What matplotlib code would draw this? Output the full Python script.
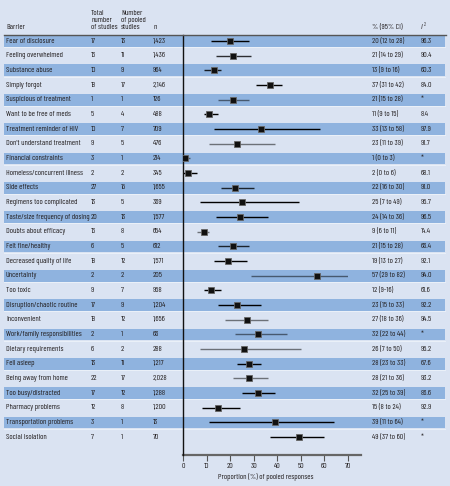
import matplotlib
matplotlib.use("Agg")
import matplotlib.pyplot as plt
from matplotlib.patches import Rectangle
from matplotlib.lines import Line2D
from matplotlib.transforms import blended_transform_factory

plt.rcParams['font.family'] = ['Barlow Condensed', 'Archivo Narrow', 'DejaVu Sans']

barriers = ["Fear of disclosure", "Feeling overwhelmed", "Substance abuse", "Simply forgot",
            "Suspicious of treatment", "Want to be free of meds", "Treatment reminder of HIV",
            "Don't understand treatment", "Financial constraints", "Homeless/concurrent illness",
            "Side effects", "Regimens too complicated", "Taste/size frequency of dosing",
            "Doubts about efficacy", "Felt fine/healthy", "Decreased quality of life",
            "Uncertainty", "Too toxic", "Disruption/chaotic routine", "Inconvenient",
            "Work/family responsibilities", "Dietary requirements", "Fell asleep",
            "Being away from home", "Too busy/distracted", "Pharmacy problems",
            "Transportation problems", "Social isolation"]
total_studies = [17, 16, 10, 18, 1, 5, 10, 9, 3, 2, 27, 13, 20, 16, 6, 18, 2, 9, 17, 18,
                 2, 6, 13, 22, 17, 12, 3, 7]
pooled_studies = [13, 11, 9, 17, 1, 4, 7, 5, 1, 2, 15, 5, 13, 8, 5, 12, 2, 7, 9, 12,
                  1, 2, 11, 17, 12, 8, 1, 1]
n_resp = ["1,423", "1,436", "964", "2,146", "126", "488", "709", "476", "214", "345",
          "1,655", "369", "1,577", "654", "612", "1,571", "205", "958", "1,204", "1,656",
          "66", "288", "1,217", "2,028", "1,288", "1,200", "13", "70"]
pct = [20, 21, 13, 37, 21, 11, 33, 23, 1, 2, 22, 25, 24, 9, 21, 19, 57, 12, 23, 27,
       32, 26, 28, 28, 32, 15, 39, 49]
ci_low = [12, 14, 9, 31, 15, 9, 13, 11, 0, 0, 16, 7, 14, 6, 15, 13, 29, 9, 15, 18,
          22, 7, 23, 21, 25, 8, 11, 37]
ci_high = [28, 29, 16, 42, 28, 15, 58, 39, 3, 6, 30, 49, 36, 11, 28, 27, 82, 16, 33, 36,
           44, 50, 33, 36, 39, 24, 64, 60]
ci_text = ["20 (12 to 28)", "21 (14 to 29)", "13 (9 to 16)", "37 (31 to 42)", "21 (15 to 28)",
           "11 (9 to 15)", "33 (13 to 58)", "23 (11 to 39)", "1 (0 to 3)", "2 (0 to 6)",
           "22 (16 to 30)", "25 (7 to 49)", "24 (14 to 36)", "9 (6 to 11)", "21 (15 to 28)",
           "19 (13 to 27)", "57 (29 to 82)", "12 (9-16)", "23 (15 to 33)", "27 (18 to 36)",
           "32 (22 to 44)", "26 (7 to 50)", "28 (23 to 33)", "28 (21 to 36)", "32 (25 to 39)",
           "15 (8 to 24)", "39 (11 to 64)", "49 (37 to 60)"]
i2 = ["96.3", "90.4", "60.3", "84.0", "*", "8.4", "97.9", "91.7", "*", "68.1", "91.0", "95.7",
      "96.5", "14.4", "66.4", "92.1", "94.0", "61.6", "92.2", "94.5", "*", "95.2", "67.6",
      "93.2", "86.6", "92.9", "*", "*"]
ticks = [0, 10, 20, 30, 40, 50, 60, 70]

# line darkness per row (as seen in the original)
line_alpha = [1, 0.8, 0.85, 1, 0.5, 1, 1, 0.5, 0.5, 1, 0.8, 1, 1, 0.5, 0.8, 1, 0.5, 1, 1, 0.5,
              0.5, 0.5, 1, 0.5, 1, 1, 1, 1]

W, H = 450, 486
bg = "#dae3f2"
band = "#8fb3df"
txt = "#231f20"
fs = 5.7

fig = plt.figure(figsize=(W / 100, H / 100), dpi=100, facecolor=bg)
ax = fig.add_axes([183 / W, 1 - 455 / H, 165 / W, 420 / H])
ax.set_facecolor("none")
nrow = len(barriers)
ax.set_xlim(0, 70)
ax.set_ylim(-0.41 + 420 / 14.67, -0.41)

tr = blended_transform_factory(fig.transFigure, ax.transData)

# alternating bands across the whole figure
for i in range(0, nrow, 2):
    ax.add_artist(Rectangle((4 / W, i - 0.4), 441 / W, 0.8, transform=tr, facecolor=band,
                            edgecolor="none", clip_on=False, zorder=0))
    ax.add_artist(Line2D([4 / W, 445 / W], [i + 0.43, i + 0.43], transform=tr,
                         color="#eef3fa", lw=0.6, clip_on=False, zorder=0))

# CIs and point estimates
for i in range(nrow):
    ax.plot([ci_low[i], ci_high[i]], [i, i], color="black", alpha=line_alpha[i], lw=1.0,
            solid_capstyle="butt", zorder=2)
    ax.plot(pct[i], i, marker="s", ms=4.3, color="#111111", mec="#666666", mew=0.6,
            zorder=3)

# table columns
for i in range(nrow):
    ax.text(6 / W, i, barriers[i], transform=tr, fontsize=fs, color=txt, va="center")
    ax.text(91 / W, i, str(total_studies[i]), transform=tr, fontsize=fs, color=txt, va="center")
    ax.text(121 / W, i, str(pooled_studies[i]), transform=tr, fontsize=fs, color=txt, va="center")
    ax.text(153 / W, i, n_resp[i], transform=tr, fontsize=fs, color=txt, va="center")
    ax.text(372 / W, i, ci_text[i], transform=tr, fontsize=fs, color=txt, va="center")
    ax.text(421 / W, i, i2[i], transform=tr, fontsize=fs, color=txt, va="center")

# header
hy = 1 - 29 / H
fig.text(6 / W, hy, "Barrier", fontsize=fs, color=txt, va="baseline")
fig.text(91 / W, hy, "Total\nnumber\nof studies", fontsize=fs, color=txt, va="baseline",
         linespacing=1.0)
fig.text(121 / W, hy, "Number\nof pooled\nstudies", fontsize=fs, color=txt, va="baseline",
         linespacing=1.0)
fig.text(153 / W, hy, "n", fontsize=fs, color=txt, va="baseline")
fig.text(372 / W, hy, "% (95% CI)", fontsize=fs, color=txt, va="baseline")
fig.text(421 / W, hy, "I", fontsize=fs, color=txt, va="baseline", style="italic")
fig.text(424 / W, hy + 3 / H, "2", fontsize=fs * 0.6, color=txt, va="baseline")
fig.add_artist(Line2D([4 / W, 446 / W], [1 - 35 / H, 1 - 35 / H], color="#555555", lw=1.0))

# axes styling
for s in ["top", "right", "bottom"]:
    ax.spines[s].set_visible(False)
ax.spines["left"].set_color("#111111")
ax.spines["left"].set_linewidth(1.0)
ax.add_artist(Line2D([0, 75.5], [0, 0], transform=blended_transform_factory(ax.transData, ax.transAxes),
                     color="#666666", lw=1.6, clip_on=False))
ax.set_yticks([])
ax.set_xticks(ticks)
ax.tick_params(axis="x", length=4, width=0.8, color="#555555", labelsize=fs,
               labelcolor=txt, pad=2)
ax.set_xlabel("Proportion (%) of pooled responses", fontsize=fs, color=txt, labelpad=2)

fig.savefig("out.png", dpi=100, facecolor=bg)
